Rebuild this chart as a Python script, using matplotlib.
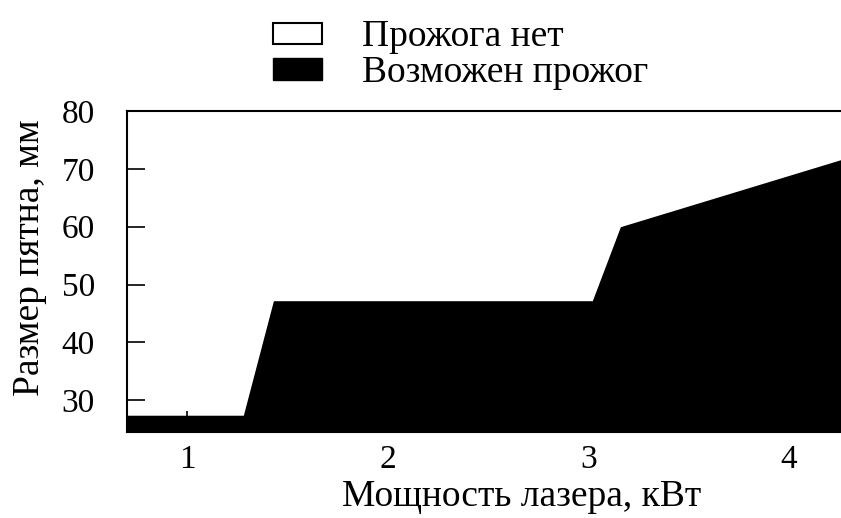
import matplotlib
matplotlib.use("Agg")
import matplotlib.pyplot as plt
from matplotlib.patches import Patch

plt.rcParams['font.family'] = ['Liberation Serif', 'DejaVu Serif']

# Data
power_kw = [0.70, 1.28, 1.43, 3.02, 3.16, 4.26]
spot_mm = [27.4, 27.4, 47.2, 47.2, 60.0, 71.6]
x_ticks = [1, 2, 3, 4]
y_ticks = [30, 40, 50, 60, 70, 80]
legend_labels = ["Прожога нет", "Возможен прожог"]
xlabel = "Мощность лазера, кВт"
ylabel = "Размер пятна, мм"

W, H = 841, 518
fig = plt.figure(figsize=(W / 100, H / 100), dpi=100)
left, right, top, bottom = 127, 841, 111, 432
ax = fig.add_axes([left / W, (H - bottom) / H, (right - left) / W, (bottom - top) / H])

ymin, ymax = 24.5, 80
ax.fill_between(power_kw, ymin, spot_mm, color='black', linewidth=0)
ax.set_xlim(power_kw[0], power_kw[-1])
ax.set_ylim(ymin, ymax)

ax.set_xticks(x_ticks)
ax.set_yticks(y_ticks)
ax.set_xticklabels([str(v) for v in x_ticks])
ax.set_yticklabels([str(v) for v in y_ticks])
ax.tick_params(axis='x', direction='in', length=15, width=1.2, labelsize=24, pad=9, top=False)
ax.tick_params(axis='y', direction='in', length=13, width=1.2, labelsize=24, pad=23, right=False)
ax.spines['right'].set_visible(False)
for s in ['left', 'top', 'bottom']:
    ax.spines[s].set_linewidth(1.5)

ax.set_xlabel(xlabel, fontsize=27)
ax.xaxis.set_label_coords(0.552, -0.229)
ax.xaxis.label.set_verticalalignment('baseline')
ax.set_ylabel(ylabel, fontsize=27)
ax.yaxis.set_label_coords(-0.136, 0.542)
ax.yaxis.label.set_verticalalignment('center')

handles = [Patch(facecolor='white', edgecolor='black', linewidth=1.5),
           Patch(facecolor='black', edgecolor='black')]
fig.legend(handles, legend_labels, loc='upper left',
           bbox_to_anchor=(273 / W, 1 - 20 / H), frameon=False, fontsize=27,
           borderpad=0, borderaxespad=0,
           handlelength=1.3, handleheight=0.5, handletextpad=1.07, labelspacing=0.03)

fig.savefig("out.png", dpi=100)
